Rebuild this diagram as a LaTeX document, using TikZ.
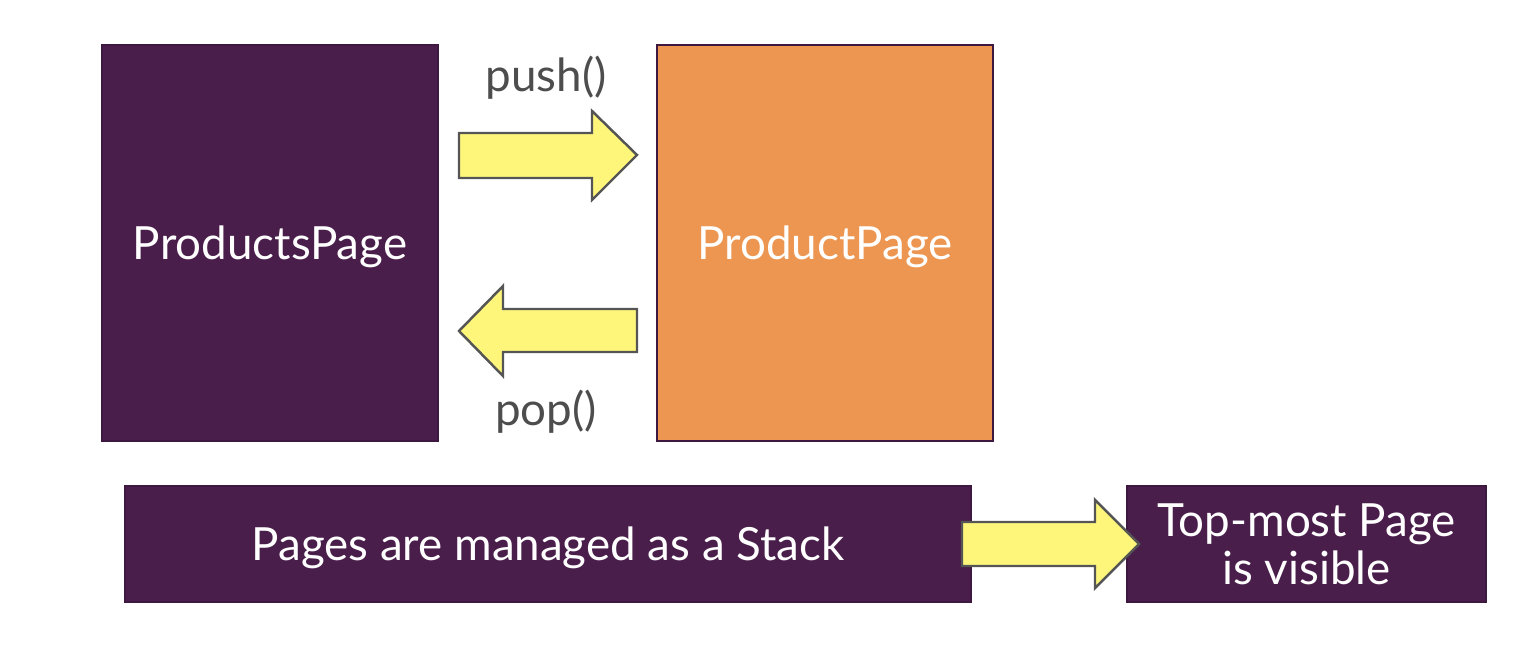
\documentclass[tikz,border=0pt]{standalone}
\usepackage{fontspec}
\setmainfont{Lato}
\definecolor{plum}{HTML}{4A1E4B}
\definecolor{plumline}{HTML}{3E1840}
\definecolor{orangebox}{HTML}{ED9651}
\definecolor{arrowfill}{HTML}{FEF67A}
\definecolor{arrowline}{HTML}{555555}
\definecolor{labelgray}{HTML}{4D4D4D}
\tikzset{
  pagebase/.style={draw=plumline, line width=0.6pt, inner sep=0pt, text=white, font=\fontsize{13}{13.7}\selectfont},
  pagebox/.style={pagebase, text height=12.2pt, text depth=2.6pt},
  blockarrow/.style={draw=arrowline, fill=arrowfill, line width=0.7pt, line join=miter},
  oplabel/.style={text=labelgray, font=\fontsize{13}{15.5}\selectfont, inner sep=0pt}
}
\begin{document}
\begin{tikzpicture}[x=0.01cm,y=-0.01cm]
\useasboundingbox (0,0) rectangle (1536,652);
\node[pagebox, fill=plum, minimum width=3.36cm, minimum height=3.96cm] (products) at (270,243) {ProductsPage};
\node[pagebox, fill=orangebox, minimum width=3.36cm, minimum height=3.96cm] (product) at (825,243) {ProductPage};
\node[pagebox, fill=plum, minimum width=8.46cm, minimum height=1.16cm] (stack) at (548,544) {Pages are managed as a Stack};
\node[pagebase, fill=plum, minimum width=3.59cm, minimum height=1.16cm, align=center] (visible) at (1306.5,544) {Top-most Page\\is visible};
\node[oplabel] (push) at (546,78) {push()};
\node[oplabel] (pop) at (546,412) {pop()};
% push arrow
\draw[blockarrow] (459,133) -- (592,133) -- (592,111) -- (637,155) -- (592,200) -- (592,178) -- (459,178) -- cycle;
% pop arrow
\draw[blockarrow] (637,309) -- (503,309) -- (503,286) -- (459,331) -- (503,376) -- (503,352) -- (637,352) -- cycle;
% stack arrow
\draw[blockarrow] (962,522) -- (1095,522) -- (1095,500) -- (1139,544) -- (1095,588) -- (1095,566) -- (962,566) -- cycle;
\end{tikzpicture}
\end{document}
